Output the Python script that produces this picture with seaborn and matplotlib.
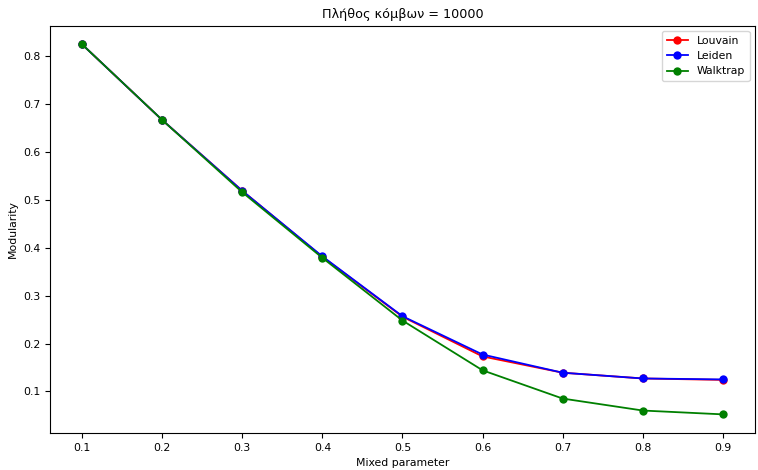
import matplotlib
matplotlib.use("Agg")
import matplotlib.pyplot as plt
import seaborn as sns
import pandas as pd

mixed = [0.1, 0.2, 0.3, 0.4, 0.5, 0.6, 0.7, 0.8, 0.9]
louvain = [0.825, 0.667, 0.519, 0.381, 0.256, 0.173, 0.139, 0.127, 0.124]
leiden = [0.825, 0.667, 0.519, 0.382, 0.257, 0.177, 0.139, 0.127, 0.125]
walktrap = [0.825, 0.667, 0.516, 0.379, 0.248, 0.144, 0.085, 0.060, 0.052]

frames = []
for name, vals in [("Louvain", louvain), ("Leiden", leiden), ("Walktrap", walktrap)]:
    frames.append(pd.DataFrame({"Mixed parameter": mixed, "Modularity": vals, "Algorithm": name}))
df = pd.concat(frames, ignore_index=True)

fig = plt.figure(figsize=(7.58, 4.70), dpi=100)
ax = fig.add_axes([0.066, 0.079, 0.93, 0.866])
sns.lineplot(data=df, x="Mixed parameter", y="Modularity", hue="Algorithm",
             palette={"Louvain": "red", "Leiden": "blue", "Walktrap": "green"},
             marker="o", markersize=6, markeredgewidth=0, linewidth=1.3, ax=ax)
ax.set_xticks(mixed)
ax.set_xticklabels([f"{v:.1f}" for v in mixed])
ax.tick_params(labelsize=7.8)
ax.set_xlabel("Mixed parameter", fontsize=7.8)
ax.set_ylabel("Modularity", fontsize=7.8)
ax.set_title("Πλήθος κόμβων = 10000", fontsize=9.2)
ax.legend(title=None, fontsize=7.8, loc="upper right")
fig.savefig("out.png", dpi=100)
